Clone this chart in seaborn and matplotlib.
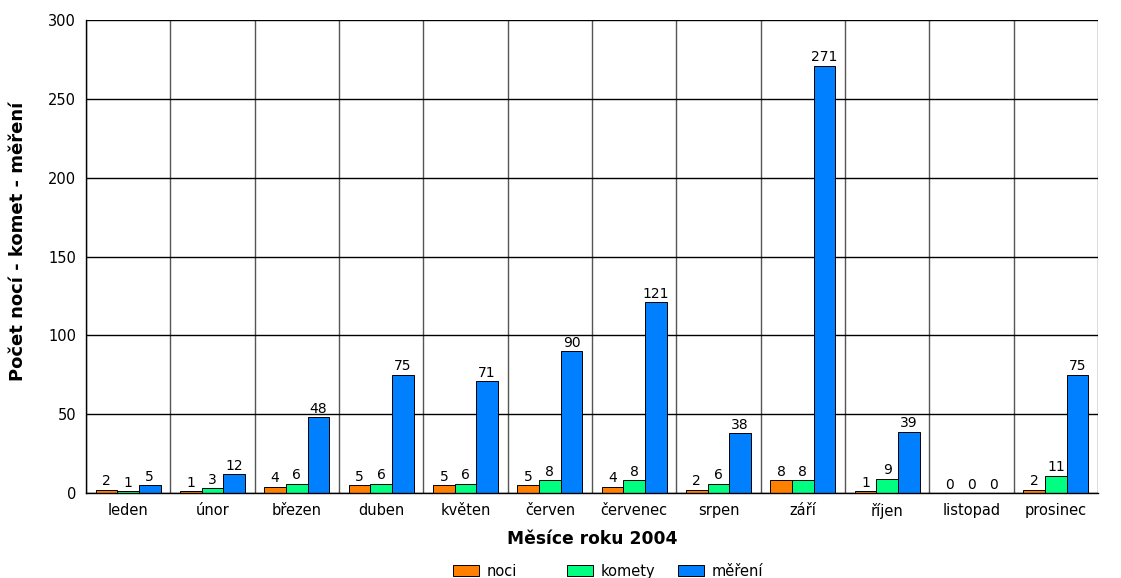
import matplotlib
matplotlib.use("Agg")
import matplotlib.pyplot as plt
import numpy as np
import pandas as pd
import seaborn as sns

MONTHS = ["leden", "únor", "březen", "duben", "květen", "červen",
          "červenec", "srpen", "září", "říjen", "listopad", "prosinec"]
SERIES = ["noci", "komety", "měření"]
NOCI = [2, 1, 4, 5, 5, 5, 4, 2, 8, 1, 0, 2]
KOMETY = [1, 3, 6, 6, 6, 8, 8, 6, 8, 9, 0, 11]
MERENI = [5, 12, 48, 75, 71, 90, 121, 38, 271, 39, 0, 75]
COLORS = ["#FF8000", "#00FF80", "#0080FF"]

df = pd.DataFrame({
    "mesic": MONTHS * 3,
    "serie": [s for s in SERIES for _ in MONTHS],
    "hodnota": NOCI + KOMETY + MERENI,
})

sns.set_style("white")
plt.rcParams["font.family"] = ["DejaVu Sans"]
plt.rcParams["text.color"] = "black"
plt.rcParams["axes.labelcolor"] = "black"
plt.rcParams["xtick.color"] = "black"
plt.rcParams["ytick.color"] = "black"

fig = plt.figure(figsize=(11.21, 5.78), dpi=100)
ax = fig.add_axes([0.0767, 0.147, 0.9028, 0.8184])

sns.barplot(data=df, x="mesic", y="hodnota", hue="serie", order=MONTHS,
            hue_order=SERIES, palette=COLORS, width=0.77, ax=ax,
            edgecolor="black", linewidth=0.7, saturation=1, legend=True)

for container in ax.containers:
    ax.bar_label(container, fmt="%d", fontsize=10, padding=1, color="black")

ax.set_xlim(-0.5, len(MONTHS) - 0.5)
ax.set_ylim(0, 300)
ax.set_yticks(np.arange(0, 301, 50))
ax.set_xticks(np.arange(len(MONTHS)))
ax.set_xticklabels(MONTHS, fontsize=10.5)
ax.set_xticks(np.arange(len(MONTHS) + 1) - 0.5, minor=True)
ax.tick_params(axis="x", which="major", length=0, pad=7)
ax.tick_params(axis="x", which="minor", length=5, width=1, color="black", direction="out")
ax.tick_params(axis="y", length=5, width=1, color="black", direction="out",
               labelsize=10.5, pad=2)
ax.grid(axis="y", which="major", color="black", linewidth=1)
ax.grid(axis="x", which="minor", color="#555555", linewidth=1)
ax.set_axisbelow(True)

for side in ["top", "right"]:
    ax.spines[side].set_visible(False)
for side in ["left", "bottom"]:
    ax.spines[side].set_color("black")
    ax.spines[side].set_linewidth(1)

ax.set_xlabel("Měsíce roku 2004", fontsize=12.3, fontweight="bold", labelpad=8)
ax.set_ylabel("Počet nocí - komet - měření", fontsize=13, fontweight="bold")
ax.yaxis.set_label_coords(-0.058, 0.531)

# legenda se stejne sirokymi sloupci jako v originale
handles, labels = ax.get_legend_handles_labels()
ax.get_legend().remove()
for handle, label, x_anchor in zip(handles, labels, [0.404, 0.506, 0.605]):
    fig.legend([handle], [label], loc="center left",
               bbox_to_anchor=(x_anchor, 0.012), frameon=False,
               fontsize=10.5, handlelength=1.8, handleheight=0.82,
               handletextpad=0.5, borderpad=0, borderaxespad=0)

fig.savefig("out.png", dpi=100)
